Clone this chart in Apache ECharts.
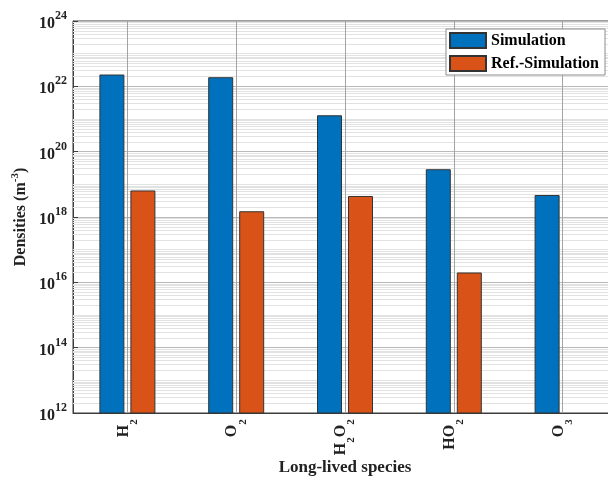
<!DOCTYPE html>
<html>
<head>
<meta charset="utf-8">
<script src="https://cdn.jsdelivr.net/npm/echarts@6/dist/echarts.min.js"></script>
<style>
html,body{margin:0;padding:0;background:#fff;}
#chart{width:608px;height:483px;}
</style>
</head>
<body>
<div id="chart"></div>
<script>
// ---- data ----
const categories = ['H2', 'O2', 'H2O2', 'HO2', 'O3'];
const simulation = [2.3e22, 1.9e22, 1.3e21, 2.9e19, 4.7e18];
const refSimulation = [6.5e18, 1.5e18, 4.4e18, 2.0e16, null];
const seriesNames = ['Simulation', 'Ref.-Simulation'];
const yMin = 1e12, yMax = 1e24;
const yTickExponents = [12, 14, 16, 18, 20, 22, 24];

// minor grid positions (MATLAB-style log minor grid)
const minorGrid = [];
for (let n = 12; n < 24; n++) {
  for (let k = 1; k <= 9; k++) {
    if (k === 1 && n % 2 === 0) continue;
    minorGrid.push({ yAxis: k * Math.pow(10, n) });
  }
}

const FONT = 'Liberation Serif';
const chart = echarts.init(document.getElementById('chart'), null, { renderer: 'canvas' });

function subLabel(name) {
  const parts = name.match(/[A-Za-z]+|\d+/g);
  return parts.map(p => /\d/.test(p) ? '{s|' + p + '}' : '{m|' + p + '}').join('') + '{g| }';
}

const option = {
  animation: false,
  backgroundColor: '#fff',
  grid: { left: 73, top: 21, width: 544, height: 392, outerBoundsMode: 'none', containLabel: false, show: true, borderColor: '#3d3d3d', borderWidth: 1, backgroundColor: 'transparent' },
  legend: {
    orient: 'vertical',
    left: 446, top: 29,
    icon: 'rect',
    itemWidth: 36, itemHeight: 15, itemGap: 6,
    padding: [3, 6, 3, 3],
    backgroundColor: '#fff',
    borderColor: '#8c8c8c', borderWidth: 1,
    textStyle: { fontFamily: FONT, fontWeight: 'bold', fontSize: 16, color: '#000' },
    data: seriesNames
  },
  xAxis: {
    type: 'category',
    data: categories,
    axisLine: { show: true, lineStyle: { color: '#3d3d3d', width: 1 } },
    axisTick: { show: false },
    splitLine: { show: false },
    axisLabel: {
      rotate: 90, margin: 6,
      fontFamily: FONT, fontWeight: 'bold', fontSize: 16, color: '#222',
      formatter: v => subLabel(v),
      rich: {
        m: { fontFamily: FONT, fontWeight: 'bold', fontSize: 16, color: '#222', lineHeight: 16, verticalAlign: 'top' },
        s: { fontFamily: FONT, fontWeight: 'bold', fontSize: 11, color: '#222', lineHeight: 11, verticalAlign: 'bottom' },
        g: { fontFamily: FONT, fontSize: 1, lineHeight: 24 }
      }
    },
    name: 'Long-lived species',
    nameLocation: 'middle',
    nameGap: 46,
    nameMoveOverlap: false,
    nameTextStyle: { fontFamily: FONT, fontWeight: 'bold', fontSize: 17, color: '#222' }
  },
  yAxis: {
    type: 'log',
    logBase: 10,
    min: yMin, max: yMax,
    interval: 2,
    axisLine: { show: true, lineStyle: { color: '#3d3d3d', width: 1 } },
    axisTick: { show: true, inside: true, length: 5, lineStyle: { color: '#3d3d3d' } },
    splitLine: { show: true, lineStyle: { color: '#b9b9b9', width: 1 } },
    axisLabel: {
      margin: 6,
      fontFamily: FONT, fontWeight: 'bold', fontSize: 16, color: '#222',
      formatter: function (v) {
        const e = Math.round(Math.log10(v));
        if (yTickExponents.indexOf(e) < 0) return '';
        return '{b|10}{s|' + e + '}';
      },
      rich: {
        b: { fontFamily: FONT, fontWeight: 'bold', fontSize: 16, color: '#222', lineHeight: 22, verticalAlign: 'bottom' },
        s: { fontFamily: FONT, fontWeight: 'bold', fontSize: 12, color: '#222', lineHeight: 14, verticalAlign: 'top' }
      }
    },
    name: 'Densities (m{s|-3})',
    nameLocation: 'middle',
    nameGap: 41,
    nameMoveOverlap: false,
    nameTextStyle: {
      fontFamily: FONT, fontWeight: 'bold', fontSize: 16, color: '#222', lineHeight: 22, verticalAlign: 'bottom',
      rich: {
        s: { fontFamily: FONT, fontWeight: 'bold', fontSize: 11, color: '#222', lineHeight: 12, verticalAlign: 'top' }
      }
    }
  },
  series: [
    {
      name: 'grid-lines',
      type: 'line',
      data: [],
      silent: true,
      markLine: {
        silent: true, symbol: 'none', z: 1, animation: false,
        label: { show: false },
        lineStyle: { color: '#e2e2e2', width: 1, type: 'solid' },
        data: minorGrid.concat(categories.map(c => ({ xAxis: c, lineStyle: { color: '#a3a3a3', width: 1, type: 'solid' } })))
      }
    },
    {
      name: seriesNames[0],
      type: 'bar',
      data: simulation,
      barWidth: 25,
      barGap: '24%',
      z: 3,
      itemStyle: { color: '#0072BD', borderColor: '#333', borderWidth: 1 }
    },
    {
      name: seriesNames[1],
      type: 'bar',
      data: refSimulation,
      barWidth: 25,
      z: 3,
      itemStyle: { color: '#D95319', borderColor: '#333', borderWidth: 1 }
    }
  ]
};
chart.setOption(option);
</script>
</body>
</html>
